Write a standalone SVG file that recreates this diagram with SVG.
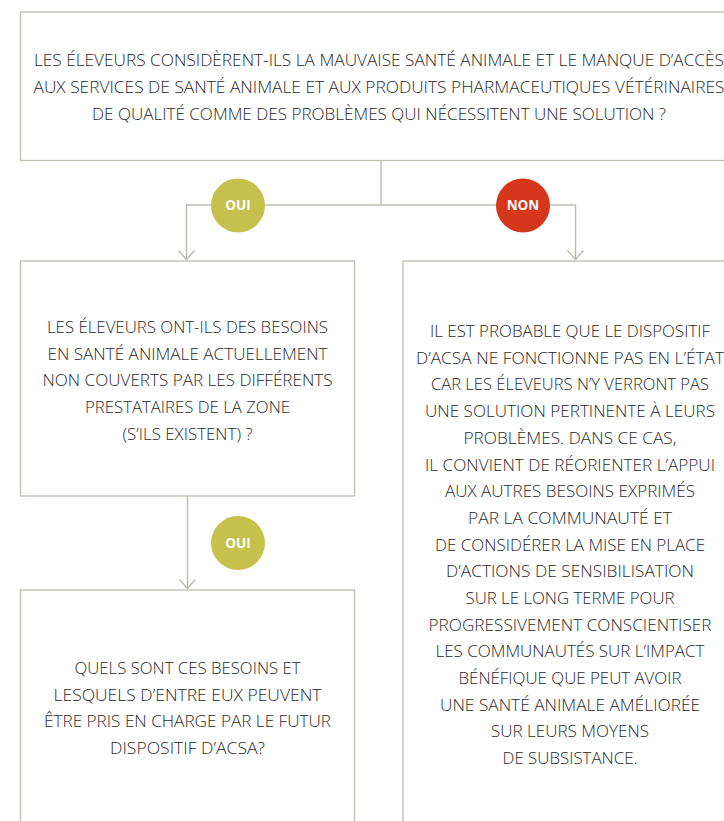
<svg xmlns="http://www.w3.org/2000/svg" width="724" height="821" viewBox="0 0 724 821">
<style>
.box{fill:#ffffff;stroke:#c3c0b7;stroke-width:1.4}
.t{font-family:"Open Sans","Liberation Sans",sans-serif;font-weight:300;font-size:16.5px;fill:#2a2a2a;text-anchor:middle}
.b{font-family:"Open Sans","Liberation Sans",sans-serif;font-weight:700;font-size:13.5px;fill:#ffffff;text-anchor:middle}
.c{fill:none;stroke:#bdbab1;stroke-width:1.4}
</style>
<defs>
<marker id="ar" viewBox="-10 -10 12 20" refX="0" refY="0" markerWidth="12" markerHeight="20" markerUnits="userSpaceOnUse" orient="auto" overflow="visible">
<path d="M-9,-8 L0,0 L-9,8" fill="none" stroke="#bdbab1" stroke-width="1.4"/>
</marker>
</defs>
<rect width="724" height="821" fill="#ffffff"/>
<g id="connectors">
<path class="c" d="M381,161 V205"/>
<path class="c" d="M381,205 H186.5 V259.5" marker-end="url(#ar)"/>
<path class="c" d="M381,205 H575.5 V259.5" marker-end="url(#ar)"/>
<path class="c" d="M187.5,496 V588.5" marker-end="url(#ar)"/>
</g>
<g id="q1">
<rect class="box" x="20.5" y="12" width="720" height="148.5"/>
<text class="t" x="379" y="66" textLength="690" lengthAdjust="spacingAndGlyphs">LES ÉLEVEURS CONSIDÈRENT-ILS LA MAUVAISE SANTÉ ANIMALE ET LE MANQUE D’ACCÈS</text>
<text class="t" x="379" y="93" textLength="691" lengthAdjust="spacingAndGlyphs">AUX SERVICES DE SANTÉ ANIMALE ET AUX PRODUITS PHARMACEUTIQUES VÉTÉRINAIRES</text>
<text class="t" x="379" y="120" textLength="574" lengthAdjust="spacingAndGlyphs">DE QUALITÉ COMME DES PROBLÈMES QUI NÉCESSITENT UNE SOLUTION ?</text>
</g>
<g id="badge-oui-1">
<circle cx="238" cy="205.5" r="27" fill="#c6c04c"/>
<text class="b" x="238" y="210.3">OUI</text>
</g>
<g id="badge-non">
<circle cx="523" cy="205.5" r="27" fill="#d63619"/>
<text class="b" x="523" y="210.3">NON</text>
</g>
<g id="q2">
<rect class="box" x="20.5" y="261" width="334" height="235"/>
<text class="t" x="187.5" y="333" textLength="281" lengthAdjust="spacingAndGlyphs">LES ÉLEVEURS ONT-ILS DES BESOINS</text>
<text class="t" x="187.5" y="359.7" textLength="280" lengthAdjust="spacingAndGlyphs">EN SANTÉ ANIMALE ACTUELLEMENT</text>
<text class="t" x="187.5" y="386.4" textLength="290" lengthAdjust="spacingAndGlyphs">NON COUVERTS PAR LES DIFFÉRENTS</text>
<text class="t" x="187.5" y="413.1" textLength="205" lengthAdjust="spacingAndGlyphs">PRESTATAIRES DE LA ZONE</text>
<text class="t" x="187.5" y="439.8" textLength="130" lengthAdjust="spacingAndGlyphs">(S’ILS EXISTENT) ?</text>
</g>
<g id="badge-oui-2">
<circle cx="238" cy="543" r="27" fill="#c6c04c"/>
<text class="b" x="238" y="547.8">OUI</text>
</g>
<g id="q3">
<rect class="box" x="20.5" y="590" width="334" height="260"/>
<text class="t" x="187.5" y="674" textLength="226" lengthAdjust="spacingAndGlyphs">QUELS SONT CES BESOINS ET</text>
<text class="t" x="187.5" y="700.7" textLength="268" lengthAdjust="spacingAndGlyphs">LESQUELS D’ENTRE EUX PEUVENT</text>
<text class="t" x="187.5" y="727.4" textLength="287" lengthAdjust="spacingAndGlyphs">ÊTRE PRIS EN CHARGE PAR LE FUTUR</text>
<text class="t" x="187.5" y="754.1" textLength="155" lengthAdjust="spacingAndGlyphs">DISPOSITIF D’ACSA?</text>
</g>
<g id="r1">
<rect class="box" x="403" y="261" width="334" height="600"/>
<text class="t" x="570" y="337" textLength="280" lengthAdjust="spacingAndGlyphs">IL EST PROBABLE QUE LE DISPOSITIF</text>
<text class="t" x="570" y="363.7" textLength="308" lengthAdjust="spacingAndGlyphs">D’ACSA NE FONCTIONNE PAS EN L’ÉTAT</text>
<text class="t" x="570" y="390.4" textLength="278" lengthAdjust="spacingAndGlyphs">CAR LES ÉLEVEURS N’Y VERRONT PAS</text>
<text class="t" x="570" y="417.1" textLength="290" lengthAdjust="spacingAndGlyphs">UNE SOLUTION PERTINENTE À LEURS</text>
<text class="t" x="570" y="443.8" textLength="213" lengthAdjust="spacingAndGlyphs">PROBLÈMES. DANS CE CAS,</text>
<text class="t" x="570" y="470.5" textLength="290" lengthAdjust="spacingAndGlyphs">IL CONVIENT DE RÉORIENTER L’APPUI</text>
<text class="t" x="570" y="497.1" textLength="250" lengthAdjust="spacingAndGlyphs">AUX AUTRES BESOINS EXPRIMÉS</text>
<text class="t" x="570" y="523.8" textLength="204" lengthAdjust="spacingAndGlyphs">PAR LA COMMUNAUTÉ ET</text>
<text class="t" x="570" y="550.5" textLength="270" lengthAdjust="spacingAndGlyphs">DE CONSIDÉRER LA MISE EN PLACE</text>
<text class="t" x="570" y="577.2" textLength="248" lengthAdjust="spacingAndGlyphs">D’ACTIONS DE SENSIBILISATION</text>
<text class="t" x="570" y="603.9" textLength="209" lengthAdjust="spacingAndGlyphs">SUR LE LONG TERME POUR</text>
<text class="t" x="570" y="630.6" textLength="283" lengthAdjust="spacingAndGlyphs">PROGRESSIVEMENT CONSCIENTISER</text>
<text class="t" x="570" y="657.3" textLength="269" lengthAdjust="spacingAndGlyphs">LES COMMUNAUTÉS SUR L’IMPACT</text>
<text class="t" x="570" y="684" textLength="223" lengthAdjust="spacingAndGlyphs">BÉNÉFIQUE QUE PEUT AVOIR</text>
<text class="t" x="570" y="710.7" textLength="260" lengthAdjust="spacingAndGlyphs">UNE SANTÉ ANIMALE AMÉLIORÉE</text>
<text class="t" x="570" y="737.4" textLength="158" lengthAdjust="spacingAndGlyphs">SUR LEURS MOYENS</text>
<text class="t" x="570" y="764.1" textLength="135" lengthAdjust="spacingAndGlyphs">DE SUBSISTANCE.</text>
</g>
</svg>
